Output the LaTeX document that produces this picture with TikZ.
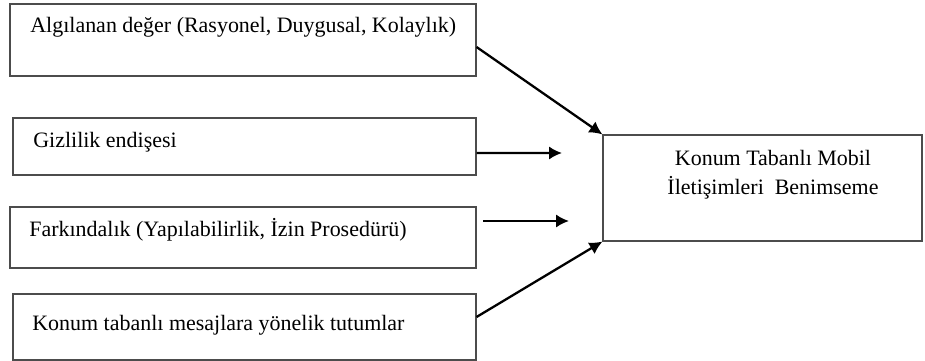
\documentclass[tikz,border=0pt]{standalone}
\usepackage{fontspec}
\setmainfont{Liberation Serif}
\usetikzlibrary{arrows.meta,positioning}

\begin{document}
\begin{tikzpicture}[
    box/.style={draw=black!70,line width=0.6pt,inner sep=0pt},
    flow/.style={-{Latex[length=7.4pt,width=7.6pt]},line width=1.3pt},
    txt/.style={font=\fontsize{12.5}{17}\selectfont,inner sep=0pt,anchor=base west}]
\useasboundingbox (0,0) rectangle (18.5,-7.22);
\node[box,minimum width=9.32cm,minimum height=1.44cm] (value) at (4.86,-0.80) {};
\node[box,minimum width=9.26cm,minimum height=1.14cm] (privacy) at (4.89,-2.93) {};
\node[box,minimum width=9.32cm,minimum height=1.22cm] (aware) at (4.86,-4.75) {};
\node[box,minimum width=9.26cm,minimum height=1.32cm] (attitude) at (4.89,-6.54) {};
\node[box,minimum width=6.38cm,minimum height=2.12cm] (goal) at (15.25,-3.76) {};

\node[txt] (valuetext) at (0.60,-0.66) {Algılanan değer (Rasyonel, Duygusal, Kolaylık)};
\node[txt] (privacytext) at (0.66,-2.95) {Gizlilik endişesi};
\node[txt] (awaretext) at (0.58,-4.72) {Farkındalık (Yapılabilirlik, İzin Prosedürü)};
\node[txt] (attitudetext) at (0.64,-6.60) {Konum tabanlı mesajlara yönelik tutumlar};
\node[txt,anchor=base,align=center] (goaltext) at (15.46,-3.90)
    {Konum Tabanlı Mobil\\İletişimleri\ \ Benimseme};

\coordinate (privacyend) at (11.24,-3.06);
\coordinate (awarestart) at (9.66,-4.42);
\coordinate (awareend) at (11.38,-4.42);
\draw[flow] ([yshift=-0.14cm]value.east) -- (goal.north west);
\draw[flow] ([yshift=-0.13cm]privacy.east) -- (privacyend);
\draw[flow] (awarestart) -- (awareend);
\draw[flow] ([yshift=0.20cm]attitude.east) -- (goal.south west);
\end{tikzpicture}
\end{document}
